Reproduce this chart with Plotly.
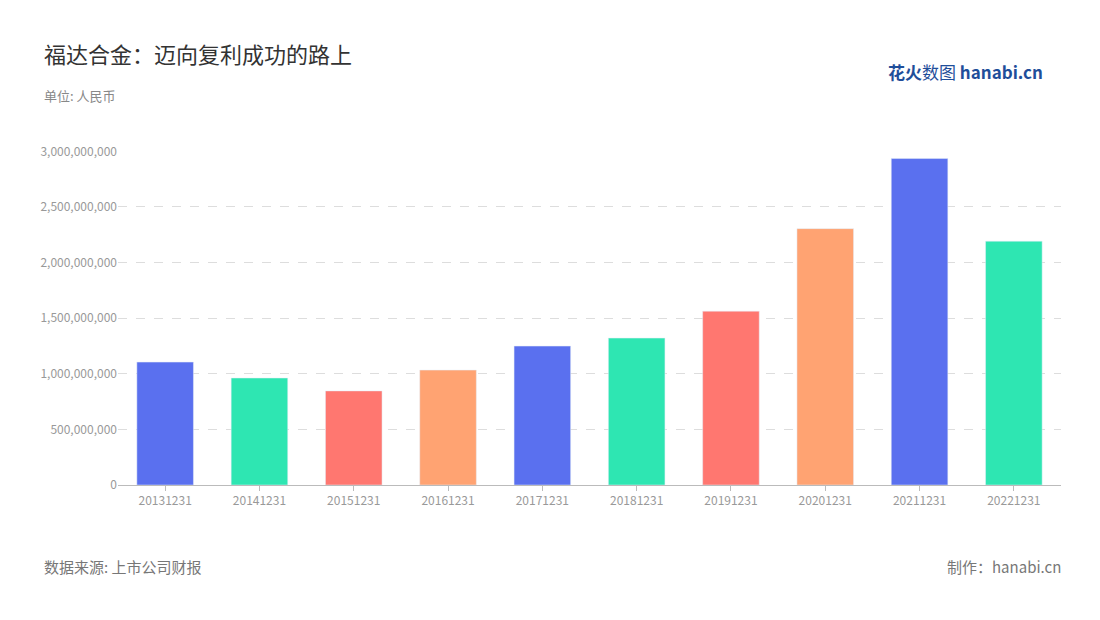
import plotly.graph_objects as go

# values
years = ["20131231", "20141231", "20151231", "20161231", "20171231",
         "20181231", "20191231", "20201231", "20211231", "20221231"]
profits = [1.105e9, 0.962e9, 0.846e9, 1.033e9, 1.249e9,
           1.321e9, 1.563e9, 2.305e9, 2.935e9, 2.192e9]
palette = ["#5A70EF", "#2EE6B2", "#FF7770", "#FFA372"]
bar_colors = [palette[i % 4] for i in range(len(years))]

fig = go.Figure(go.Bar(x=years, y=profits, marker_color=bar_colors, width=0.6))

font_family = "Noto Sans CJK SC"
fig.update_layout(
    width=1100, height=620,
    paper_bgcolor="white", plot_bgcolor="white",
    margin=dict(l=110, r=47, t=143, b=143),
    font=dict(family=font_family, color="#999999"),
    showlegend=False,
    bargap=0.4,
)
fig.update_xaxes(
    showline=True, linecolor="#BBBBBB", ticks="outside", tickcolor="#BBBBBB",
    ticklen=5, tickfont=dict(size=12, color="#999999"),
)
fig.update_yaxes(
    range=[0, 3.003e9], tickvals=[0, 5e8, 1e9, 1.5e9, 2e9, 2.5e9, 3e9],
    tickformat=",d", showgrid=True, gridcolor="#DDDDDD", griddash="dash",
    zeroline=False, tickfont=dict(size=12, color="#999999"),
)

# text in paper coords (plot area: 334 px tall, 943 px wide)
left_x = -0.081
fig.add_annotation(text="福达合金：迈向复利成功的路上", xref="paper", yref="paper",
                   x=left_x, y=1.293, xanchor="left", yanchor="middle", showarrow=False,
                   font=dict(size=22, color="#333333", family=font_family))
fig.add_annotation(text="单位: 人民币", xref="paper", yref="paper",
                   x=left_x, y=1.165, xanchor="left", yanchor="middle", showarrow=False,
                   font=dict(size=13, color="#888888", family=font_family))
fig.add_annotation(text="数据来源: 上市公司财报", xref="paper", yref="paper",
                   x=left_x, y=-0.245, xanchor="left", yanchor="middle", showarrow=False,
                   font=dict(size=15, color="#777777", family=font_family))
fig.add_annotation(text="制作：hanabi.cn", xref="paper", yref="paper",
                   x=1.002, y=-0.245, xanchor="right", yanchor="middle", showarrow=False,
                   font=dict(size=15, color="#777777", family=font_family))
fig.add_annotation(text="<b>花火</b>数图 <b>hanabi.cn</b>", xref="paper", yref="paper",
                   x=0.983, y=1.237, xanchor="right", yanchor="middle", showarrow=False,
                   font=dict(size=17, color="#1F4E9A", family=font_family))

fig.write_html("out.html")
